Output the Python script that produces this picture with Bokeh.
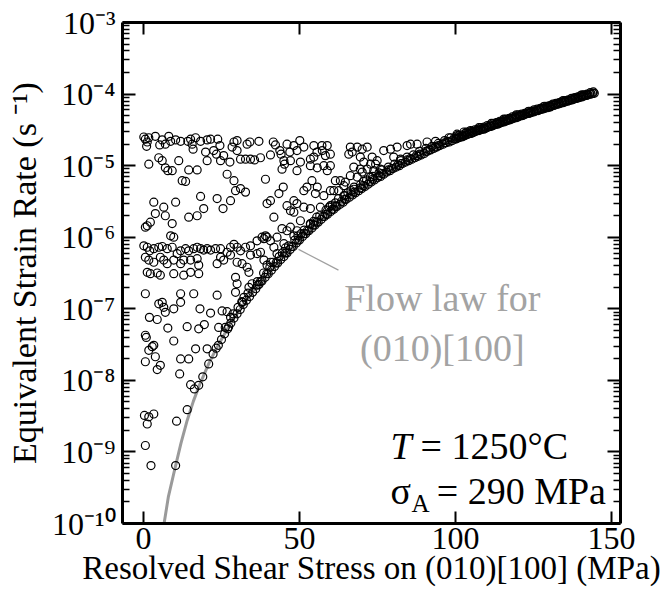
from bokeh.plotting import figure
from bokeh.models import (Range1d, FixedTicker, LinearAxis, LogAxis,
                          CustomJSTickFormatter, Label, ColumnDataSource)
from bokeh.embed import file_html
from bokeh.resources import INLINE

# ---------------- data ----------------
stress_ticks = [0, 50, 100, 150]
rate_tick_exponents = [-10, -9, -8, -7, -6, -5, -4, -3]

# flow law for (010)[100]  (log10 of strain rate)
flow_stress = [6.3, 6.6, 8.0, 10.3, 12.0, 14.0, 16.0, 18.0, 21.0, 23.3, 25.6, 29.0,
               32.2, 35.4, 38.6, 42.8, 47.1, 52.0, 57.8, 63.0, 68.5, 74.0, 79.2, 84.5,
               89.8, 95.0, 100.5, 106.0, 111.2, 116.5, 121.9, 127.0, 132.6, 138.0, 144.3]
flow_log_rate = [-10.1, -10.0, -9.62, -9.19, -8.88, -8.56, -8.29, -8.06, -7.76, -7.56, -7.38, -7.13,
                 -6.93, -6.75, -6.58, -6.37, -6.17, -5.95, -5.72, -5.54, -5.36, -5.20, -5.06, -4.94,
                 -4.83, -4.72, -4.62, -4.53, -4.45, -4.37, -4.29, -4.22, -4.14, -4.07, -3.99]

# grains: upper cluster (~2e-5)
top_stress = [0.1, 0.6, 1.2, 1.0, 1.7, 3.8, 5.2, 6.0, 7.0, 8.1,
              8.7, 10.3, 11.9, 14.2, 15.1, 15.6, 15.9, 16.7, 18.3, 19.9,
              20.4, 21.5, 22.5, 23.4, 23.8, 24.5, 25.7, 27.7, 28.4, 29.0,
              30.0, 31.1, 32.7, 33.2, 34.1, 37.0, 37.5, 40.7, 41.6, 42.3,
              43.7, 44.1, 45.0, 46.0, 46.9, 51.4, 53.5, 55.7, 64.2, 65.8,
              69.5, 70.6, 72.8, 50.1, 57.3]
top_log_rate = [-4.60, -4.63, -4.67, -4.73, -4.61, -4.59, -4.71, -4.64, -4.70, -4.59,
                -4.66, -4.64, -4.66, -4.66, -4.63, -4.70, -4.77, -4.61, -4.66, -4.81,
                -4.64, -4.63, -4.79, -4.84, -4.63, -4.72, -4.86, -4.95, -4.74, -4.67,
                -4.65, -4.91, -4.91, -4.70, -4.67, -4.66, -4.89, -4.85, -4.67, -4.71,
                -4.79, -4.84, -4.93, -4.70, -4.81, -4.74, -4.91, -5.03, -5.28, -4.84,
                -4.88, -4.95, -4.98, -4.65, -4.79]

# grains: 1e-6 .. 1e-5
mid_stress = [1.7, 4.9, 6.0, 7.0, 7.8, 9.2, 11.3, 12.4, 13.5, 14.5,
              17.2, 18.3, 19.3, 14.5, 17.2, 23.6, 25.5, 26.8, 27.9, 29.0,
              29.5, 31.1, 32.7, 34.3, 35.6, 39.1, 39.6, 40.7, 41.8, 43.4,
              44.4, 44.8, 45.2, 46.0, 3.3, 6.5, 3.8, 2.2, 1.2, 0.6,
              8.7, 9.2, 7.0, 9.7, 20.4, 24.7, 30.0, 10.3, 47.1, 48.2,
              55.7, 58.9, 59.9, 62.6, 74.4]
mid_log_rate = [-4.98, -4.89, -4.93, -5.03, -5.07, -5.07, -4.93, -5.21, -5.22, -5.06,
                -5.06, -5.43, -5.60, -5.72, -5.70, -5.46, -5.60, -5.12, -5.49, -5.21,
                -5.35, -5.32, -5.37, -4.91, -4.92, -5.19, -5.53, -5.49, -5.72, -5.39,
                -5.05, -5.30, -4.98, -5.56, -5.51, -5.58, -5.67, -5.79, -5.84, -5.86,
                -5.98, -5.81, -5.70, -6.00, -4.93, -4.93, -4.79, -5.51, -5.63, -5.49,
                -5.30, -5.07, -5.35, -5.35, -4.98]

# grains: 3e-7 .. 1e-6
low_stress = [0.1, 1.2, 2.0, 3.3, 4.9, 6.0, 7.6, 9.2, 10.8, 11.9,
              13.5, 14.5, 16.1, 17.2, 18.3, 19.3, 20.4, 21.5, 23.1, 24.7,
              26.8, 27.9, 29.0, 30.0, 31.1, 32.7, 34.3, 36.4, 38.0, 38.6,
              39.1, 39.6, 40.7, 42.8, 44.4, 46.0, 0.6, 1.7, 3.3, 5.4,
              6.5, 7.6, 9.7, 11.9, 12.9, 15.1, 17.2, 17.7, 23.6, 24.7,
              25.7, 27.9, 30.0, 31.6, 33.2, 34.3, 36.4, 37.5, 38.6, 39.6,
              40.7, 41.8, 42.8, 45.0, 1.2, 2.2, 4.4, 5.4, 9.7, 12.9,
              15.1, 17.7, 29.5, 33.8]
low_log_rate = [-6.12, -6.14, -6.19, -6.16, -6.14, -6.13, -6.16, -6.14, -6.23, -6.19,
                -6.16, -6.19, -6.16, -6.14, -6.16, -6.18, -6.16, -6.18, -6.16, -6.16,
                -6.21, -6.14, -6.10, -6.14, -6.19, -6.14, -6.12, -6.05, -6.00, -6.02,
                -5.98, -6.00, -6.05, -6.00, -5.88, -5.91, -6.28, -6.32, -6.35, -6.28,
                -6.32, -6.37, -6.32, -6.37, -6.32, -6.32, -6.30, -6.39, -6.37, -6.28,
                -6.32, -6.25, -6.35, -6.37, -6.42, -6.25, -6.23, -6.21, -6.32, -6.39,
                -6.35, -6.14, -6.23, -6.09, -6.49, -6.51, -6.50, -6.53, -6.51, -6.53,
                -6.49, -6.51, -6.56, -6.49]

# grains: 1e-8 .. 3e-7
deep_stress = [0.6, 4.9, 6.0, 6.5, 7.0, 9.7, 11.9, 11.9, 16.1, 18.1,
               21.5, 23.6, 25.2, 26.8, 27.9, 29.5, 30.0, 32.2, 33.8, 34.8,
               1.9, 4.4, 7.8, 14.0, 17.7, 19.5, 24.1, 27.3, 0.6, 0.9,
               2.8, 1.7, 3.3, 3.8, 0.6, 5.4, 4.4, 9.7, 11.9, 14.5,
               16.7, 20.4, 11.6, 15.1, 16.3, 28.7, 30.3, 31.7, 26.2]
deep_log_rate = [-6.79, -6.93, -6.91, -6.98, -7.05, -7.00, -6.79, -6.91, -6.79, -7.00,
                 -7.06, -6.81, -7.03, -7.04, -7.12, -6.77, -6.65, -6.84, -6.70, -6.65,
                 -7.12, -7.15, -7.27, -7.25, -7.28, -7.22, -7.26, -7.25, -7.37, -7.40,
                 -7.53, -7.58, -7.51, -7.67, -7.74, -7.79, -7.85, -7.45, -7.70, -7.70,
                 -7.56, -7.56, -7.91, -8.06, -8.12, -7.07, -6.98, -6.91, -7.26]

# grains: below 1e-8
floor_stress = [0.3, 1.7, 3.3, 1.2, 0.6, 2.4, 10.6, 14.0,
                10.3, 17.7, 19.0, 20.9, 22.3, 23.3]
floor_log_rate = [-8.49, -8.51, -8.47, -8.61, -8.91, -9.19, -8.57, -8.41,
                  -9.19, -8.07, -7.95, -7.77, -7.63, -7.55]

# grains above the flow law, 47 - 131 MPa
right_stress = [48.2, 49.2, 47.1, 50.3, 49.2, 54.6, 55.6, 57.2, 58.9, 58.3,
                59.9, 54.6, 53.5, 57.8, 59.9, 54.0, 52.4, 51.4, 55.1, 57.8,
                61.0, 61.5, 63.1, 64.7, 66.3, 68.5, 70.1, 71.7, 66.9, 67.4,
                69.5, 71.7, 73.8, 75.9, 73.3, 74.9, 77.0, 79.2, 81.3, 84.5,
                85.6, 87.7, 90.9, 93.6, 82.4, 80.2, 66.3, 68.5, 70.1, 72.7,
                64.2, 67.4, 49.2, 48.2, 51.4, 53.5, 56.7, 59.9, 50.3, 53.5,
                47.1, 48.2, 49.2, 97.9, 100.5, 102.7, 104.8, 109.1, 113.3, 116.5,
                120.8, 124.0, 130.4]
right_log_rate = [-4.72, -4.79, -4.93, -4.95, -5.07, -4.72, -4.81, -4.72, -4.72, -4.86,
                  -4.84, -4.88, -5.00, -5.00, -5.00, -5.21, -5.30, -5.35, -5.39, -5.42,
                  -5.35, -5.21, -5.21, -5.23, -4.74, -4.74, -4.77, -4.74, -4.81, -5.02,
                  -5.05, -5.05, -5.07, -5.05, -4.88, -4.93, -4.79, -4.77, -4.74, -4.72,
                  -4.70, -4.70, -4.67, -4.66, -4.91, -4.88, -5.14, -5.16, -5.09, -5.16,
                  -5.42, -5.33, -5.53, -5.65, -5.58, -5.60, -5.58, -5.56, -5.77, -5.81,
                  -5.86, -5.98, -5.91, -4.61, -4.56, -4.53, -4.51, -4.49, -4.40, -4.37,
                  -4.30, -4.26, -4.18]

# grains lying on the flow law (dense band)
band_stress = [24, 25, 26, 27, 28, 29, 30, 31, 32, 33,
               34, 35, 36, 37, 38, 39, 40, 41, 42, 43,
               44, 45, 46, 47, 48, 49, 50, 51, 52, 53,
               54, 55, 56, 57, 58, 59, 60, 61, 62, 63,
               64, 65, 66, 67, 68, 69, 70, 71, 72, 73,
               74, 75, 76, 77, 78, 79, 80, 81, 82, 83,
               84, 85, 86, 87, 88, 89, 90, 91, 92, 93,
               94, 95, 96, 97, 98, 99]
band_log_rate = [-7.51, -7.43, -7.35, -7.28, -7.20, -7.13, -7.07, -7.01, -6.94, -6.88,
                 -6.83, -6.77, -6.72, -6.66, -6.61, -6.56, -6.51, -6.46, -6.41, -6.36,
                 -6.31, -6.27, -6.22, -6.17, -6.13, -6.08, -6.04, -5.99, -5.95, -5.91,
                 -5.87, -5.83, -5.79, -5.75, -5.71, -5.68, -5.64, -5.61, -5.57, -5.54,
                 -5.51, -5.47, -5.44, -5.41, -5.38, -5.35, -5.32, -5.29, -5.26, -5.23,
                 -5.20, -5.17, -5.15, -5.12, -5.09, -5.07, -5.04, -5.02, -5.00, -4.97,
                 -4.95, -4.93, -4.91, -4.89, -4.87, -4.85, -4.83, -4.80, -4.78, -4.76,
                 -4.74, -4.72, -4.70, -4.68, -4.67, -4.65]

band_mid_stress = [36.5, 37.5, 39.5, 42.5, 45.5, 47.5, 49.5, 51.5, 52.5, 54.5,
                   55.5, 57.5, 58.5, 60.5, 61.5, 63.5, 64.5, 66.5, 67.5, 69.5,
                   70.5, 72.5, 73.5, 75.5, 76.5, 78.5, 79.5, 81.5, 82.5, 84.5,
                   85.5, 87.5, 88.5, 90.5, 91.5, 93.5, 94.5, 96.5, 97.5, 99.5]
band_mid_log_rate = [-6.67, -6.62, -6.51, -6.36, -6.22, -6.13, -6.04, -5.95, -5.91, -5.83,
                     -5.79, -5.71, -5.68, -5.61, -5.57, -5.50, -5.47, -5.40, -5.37, -5.31,
                     -5.28, -5.22, -5.19, -5.14, -5.11, -5.06, -5.04, -4.99, -4.97, -4.92,
                     -4.90, -4.86, -4.84, -4.80, -4.78, -4.74, -4.72, -4.68, -4.66, -4.62]

band_high_stress = [100, 100.5, 101, 101.5, 102, 102.5, 103, 103.5, 104, 104.5,
                    105, 105.5, 106, 106.5, 107, 107.5, 108, 108.5, 109, 109.5,
                    110, 110.5, 111, 111.5, 112, 112.5, 113, 113.5, 114, 114.5,
                    115, 115.5, 116, 116.5, 117, 117.5, 118, 118.5, 119, 119.5,
                    120, 120.5, 121, 121.5, 122, 122.5, 123, 123.5, 124, 124.5,
                    125, 125.5, 126, 126.5, 127, 127.5, 128, 128.5, 129, 129.5,
                    130, 130.5, 131, 131.5, 132, 132.5, 133, 133.5, 134, 134.5,
                    135, 135.5, 136, 136.5, 137, 137.5, 138, 138.5, 139, 139.5,
                    140, 140.5, 141, 141.5, 142, 142.5, 143, 143.5, 144, 144.5]
band_high_log_rate = [-4.63, -4.62, -4.61, -4.60, -4.60, -4.59, -4.58, -4.57, -4.56, -4.55,
                      -4.55, -4.54, -4.53, -4.52, -4.51, -4.51, -4.50, -4.49, -4.48, -4.48,
                      -4.47, -4.46, -4.45, -4.45, -4.44, -4.43, -4.42, -4.42, -4.41, -4.40,
                      -4.39, -4.39, -4.38, -4.37, -4.36, -4.36, -4.35, -4.34, -4.33, -4.33,
                      -4.32, -4.31, -4.30, -4.30, -4.29, -4.28, -4.27, -4.27, -4.26, -4.25,
                      -4.25, -4.24, -4.23, -4.23, -4.22, -4.21, -4.21, -4.20, -4.19, -4.19,
                      -4.18, -4.17, -4.16, -4.16, -4.15, -4.14, -4.14, -4.13, -4.12, -4.12,
                      -4.11, -4.10, -4.10, -4.09, -4.08, -4.08, -4.07, -4.06, -4.06, -4.05,
                      -4.04, -4.04, -4.03, -4.02, -4.02, -4.01, -4.00, -4.00, -3.99, -3.99]

band_top_stress = [100.2, 101.2, 102.2, 103.2, 104.2, 105.2, 106.2, 107.2, 108.2, 109.2,
                   110.2, 111.2, 112.2, 113.2, 114.2, 115.2, 116.2, 117.2, 118.2, 119.2,
                   120.2, 121.2, 122.2, 123.2, 124.2, 125.2, 126.2, 127.2, 128.2, 129.2,
                   130.2, 131.2, 132.2, 133.2, 134.2, 135.2, 136.2, 137.2, 138.2, 139.2,
                   140.2, 141.2, 142.2, 143.2, 144.2]
band_top_log_rate = [-4.60, -4.58, -4.57, -4.55, -4.53, -4.52, -4.50, -4.49, -4.47, -4.46,
                     -4.44, -4.43, -4.41, -4.40, -4.38, -4.37, -4.35, -4.34, -4.32, -4.31,
                     -4.29, -4.28, -4.27, -4.25, -4.24, -4.22, -4.21, -4.20, -4.18, -4.17,
                     -4.16, -4.14, -4.13, -4.12, -4.10, -4.09, -4.08, -4.06, -4.05, -4.04,
                     -4.02, -4.01, -4.00, -3.98, -3.97]

band_upper_stress = [31.5, 33.5, 36.5, 38.5, 40.5, 41.5, 43.5, 44.5, 45.5, 46.5,
                     48.5, 49.5, 50.5, 51.5, 53.5, 54.5, 55.5, 56.5, 58.5, 59.5,
                     60.5, 61.5, 62.5, 64.5, 65.5, 66.5, 67.5, 69.5, 70.5, 71.5,
                     73.5, 75.5, 76.5, 78.5, 80.5, 82.5, 84.5, 86.5, 88.5, 90.5,
                     92.5, 94.5, 96.5, 98.5, 100.5, 103.5, 107.5, 111.5, 115.5, 119.5,
                     123.5, 128.5, 134.5, 140.5]
band_upper_log_rate = [-6.90, -6.78, -6.62, -6.50, -6.42, -6.35, -6.27, -6.22, -6.15, -6.12,
                       -6.04, -5.98, -5.95, -5.90, -5.82, -5.78, -5.72, -5.70, -5.62, -5.58,
                       -5.55, -5.52, -5.46, -5.42, -5.38, -5.35, -5.30, -5.27, -5.22, -5.20,
                       -5.15, -5.10, -5.06, -5.02, -4.98, -4.93, -4.88, -4.85, -4.80, -4.76,
                       -4.73, -4.69, -4.65, -4.61, -4.58, -4.53, -4.47, -4.41, -4.35, -4.29,
                       -4.24, -4.17, -4.09, -4.01]

# ---------------- assemble ----------------
groups = [
    ("top", top_stress, top_log_rate),
    ("mid", mid_stress, mid_log_rate),
    ("low", low_stress, low_log_rate),
    ("deep", deep_stress, deep_log_rate),
    ("floor", floor_stress, floor_log_rate),
    ("right", right_stress, right_log_rate),
    ("band", band_stress, band_log_rate),
    ("band_mid", band_mid_stress, band_mid_log_rate),
    ("band_high", band_high_stress, band_high_log_rate),
    ("band_top", band_top_stress, band_top_log_rate),
    ("band_upper", band_upper_stress, band_upper_log_rate),
]
all_x, all_y = [], []
for name, xs, ys in groups:
    if len(xs) != len(ys):
        raise ValueError(f"{name}: {len(xs)} vs {len(ys)}")
    all_x += xs
    all_y += [10.0 ** v for v in ys]

grains = ColumnDataSource(dict(stress=all_x, rate=all_y))
flow = ColumnDataSource(dict(stress=flow_stress, rate=[10.0 ** v for v in flow_log_rate]))

FONT = "Liberation Serif"

p = figure(width=662, height=595, output_backend="svg", toolbar_location=None,
           x_range=Range1d(-6.73, 152.9), y_range=Range1d(1e-10, 1e-3),
           y_axis_type="log",
           min_border_left=122, min_border_right=42, min_border_top=22, min_border_bottom=72)
p.outline_line_color = None
p.grid.visible = False
p.background_fill_color = "white"
p.border_fill_color = "white"

x_ticker = FixedTicker(ticks=stress_ticks, minor_ticks=[])
y_major = [10.0 ** e for e in rate_tick_exponents]
y_minor = [m * 10.0 ** e for e in rate_tick_exponents[:-1] for m in range(2, 10)]
y_ticker = FixedTicker(ticks=y_major, minor_ticks=y_minor)

sup_fmt = CustomJSTickFormatter(code=r"""
const sup = {"-": "\u207b", "0": "\u2070", "1": "\u00b9", "2": "\u00b2", "3": "\u00b3",
             "4": "\u2074", "5": "\u2075", "6": "\u2076", "7": "\u2077", "8": "\u2078", "9": "\u2079"};
const e = Math.round(Math.log10(tick));
let s = "";
for (const c of String(e)) { s += sup[c]; }
return "10" + s;
""")
blank_fmt = CustomJSTickFormatter(code="return '';")


def style_axis(ax, major_in, minor_in):
    ax.axis_line_width = 3
    ax.axis_line_color = "black"
    ax.major_tick_in = major_in
    ax.major_tick_out = 0
    ax.minor_tick_in = minor_in
    ax.minor_tick_out = 0
    ax.major_tick_line_width = 2
    ax.minor_tick_line_width = 1.5
    ax.major_tick_line_color = "black"
    ax.minor_tick_line_color = "black"
    ax.major_label_text_font = FONT
    ax.major_label_text_color = "black"
    ax.axis_label_text_font = FONT
    ax.axis_label_text_font_style = "normal"
    ax.axis_label_text_color = "black"


xa = p.xaxis[0]
xa.ticker = x_ticker
style_axis(xa, 12, 0)
xa.major_label_text_font_size = "32px"
xa.major_label_standoff = 4
xa.axis_label = "Resolved Shear Stress on (010)[100] (MPa)"
xa.axis_label_text_font_size = "33px"
xa.axis_label_standoff = -2

ya = p.yaxis[0]
ya.ticker = y_ticker
ya.formatter = sup_fmt
style_axis(ya, 13, 7)
ya.major_label_text_font_size = "32px"
ya.major_label_standoff = 7
ya.axis_label = "Equivalent Strain Rate (s \u207b\u00b9)"
ya.axis_label_text_font_size = "34px"
ya.axis_label_standoff = 6

top = LinearAxis(ticker=x_ticker, formatter=blank_fmt)
style_axis(top, 12, 0)
top.major_label_text_font_size = "1px"
top.major_label_standoff = 0
p.add_layout(top, "above")

right = LogAxis(ticker=y_ticker, formatter=blank_fmt)
style_axis(right, 13, 7)
right.major_label_text_font_size = "1px"
right.major_label_standoff = 0
p.add_layout(right, "right")

# flow law curve
p.line("stress", "rate", source=flow, line_color="#9a9a9a", line_width=3)

# grains
p.scatter("stress", "rate", source=grains, marker="circle", size=8,
          fill_color=None, line_color="black", line_width=1.2)

# leader line to the flow-law label
p.line([49.7, 62.5], [10 ** -6.17, 10 ** -6.46], line_color="#a0a0a0", line_width=1.2)

gray = "#a3a3a3"
p.add_layout(Label(x=95.8, y=10 ** -6.855, text="Flow law for", text_font=FONT,
                   text_font_size="38px", text_color=gray, text_align="center",
                   text_baseline="alphabetic"))
p.add_layout(Label(x=95.8, y=10 ** -7.552, text="(010)[100]", text_font=FONT,
                   text_font_size="38px", text_color=gray, text_align="center",
                   text_baseline="alphabetic"))

p.add_layout(Label(x=79.2, y=10 ** -8.92, text="T", text_font=FONT, text_font_size="38px",
                   text_font_style="italic", text_color="black", text_align="left",
                   text_baseline="alphabetic"))
p.add_layout(Label(x=88.8, y=10 ** -8.92, text="= 1250\u00b0C", text_font=FONT,
                   text_font_size="38px", text_color="black", text_align="left",
                   text_baseline="alphabetic"))
p.add_layout(Label(x=79.2, y=10 ** -9.547, text="\u03c3", text_font=FONT, text_font_size="38px",
                   text_color="black", text_align="left", text_baseline="alphabetic"))
p.add_layout(Label(x=85.9, y=10 ** -9.714, text="A", text_font=FONT, text_font_size="25px",
                   text_color="black", text_align="left", text_baseline="alphabetic"))
p.add_layout(Label(x=94.0, y=10 ** -9.547, text="= 290 MPa", text_font=FONT,
                   text_font_size="38px", text_color="black", text_align="left",
                   text_baseline="alphabetic"))

open("out.html", "w").write(file_html(p, INLINE))
